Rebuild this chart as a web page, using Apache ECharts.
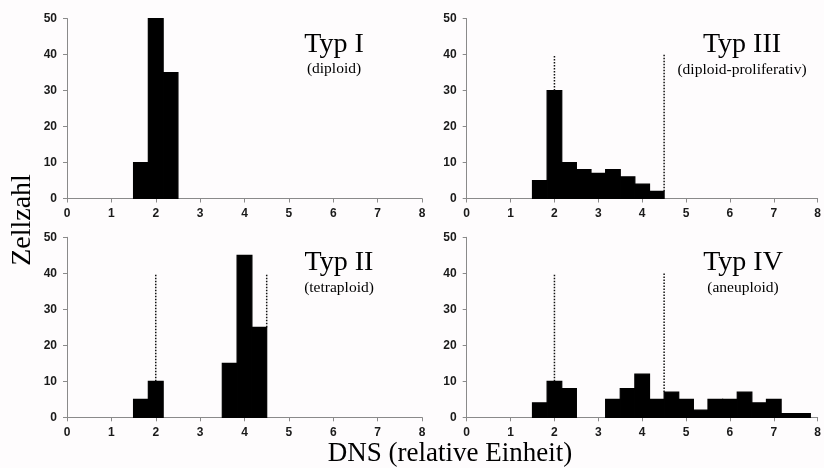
<!DOCTYPE html>
<html>
<head>
<meta charset="utf-8">
<script src="https://cdn.jsdelivr.net/npm/echarts@6/dist/echarts.min.js"></script>
<style>html,body{margin:0;padding:0;background:#fefcfd;}#c{width:824px;height:468px;}</style>
</head>
<body>
<div id="c"></div>
<script>
// Bin edges (relative DNA units)
const binEdges = [1.5, 1.833, 2.167, 2.5, 2.833, 3.167, 3.5, 3.833, 4.167, 4.5, 4.833, 5.167, 5.5, 5.833, 6.167, 6.5, 6.833, 7.167, 7.5, 7.833];
// Cell counts per bin
const countsTypI   = [10, 50, 35, 0, 0, 0, 0, 0, 0, 0, 0, 0, 0, 0, 0, 0, 0, 0, 0];
const countsTypII  = [5, 10, 0, 0, 0, 0, 15, 45, 25, 0, 0, 0, 0, 0, 0, 0, 0, 0, 0];
const countsTypIII = [5, 30, 10, 8, 7, 8, 6, 4, 2, 0, 0, 0, 0, 0, 0, 0, 0, 0, 0];
const countsTypIV  = [4, 10, 8, 0, 0, 5, 8, 12, 5, 7, 5, 2, 5, 5, 7, 4, 5, 1, 1];
// Dotted guide lines: [x, from, to]
const guidesTypI   = [];
const guidesTypII  = [[2, 10, 40], [4.5, 25, 40]];
const guidesTypIII = [[2, 30, 40], [4.5, 2, 40]];
const guidesTypIV  = [[2, 10, 40], [4.5, 7, 40]];
// Titles
const titles = ['Typ I', 'Typ II', 'Typ III', 'Typ IV'];
const subtitles = ['(diploid)', '(tetraploid)', '(diploid-proliferativ)', '(aneuploid)'];
const xTicks = [0, 1, 2, 3, 4, 5, 6, 7, 8];
const yTicks = [0, 10, 20, 30, 40, 50];

const panels = [
  {counts: countsTypI, guides: guidesTypI},
  {counts: countsTypII, guides: guidesTypII},
  {counts: countsTypIII, guides: guidesTypIII},
  {counts: countsTypIV, guides: guidesTypIV}
];
const gridPos = [
  {left: 67, top: 18.5, width: 355, height: 180},
  {left: 67, top: 237.3, width: 355, height: 180},
  {left: 466.7, top: 18.5, width: 355.5, height: 180},
  {left: 466.7, top: 237.3, width: 355.5, height: 180}
];
const titlePos = [
  {x: 334, y: 45, sy: 69},
  {x: 339, y: 263, sy: 288},
  {x: 742, y: 45, sy: 70},
  {x: 743, y: 263, sy: 288}
];

const axisColor = '#8a8a8a';
const labelStyle = {color: '#1a1a1a', fontFamily: 'Liberation Sans, Arial', fontWeight: 'bold', fontSize: 12};

function renderBar(params, api) {
  const x0 = api.value(0), x1 = api.value(1), y = api.value(2);
  const p0 = api.coord([x0, y]);
  const p1 = api.coord([x1, 0]);
  return {type: 'rect', shape: {x: p0[0], y: p0[1], width: p1[0] - p0[0], height: p1[1] - p0[1]},
    style: {fill: '#000', stroke: '#000', lineWidth: 1.2}};
}

const grid = [], xAxis = [], yAxis = [], series = [], graphic = [];
panels.forEach((p, i) => {
  grid.push(Object.assign({containLabel: false}, gridPos[i]));
  xAxis.push({type: 'value', gridIndex: i, min: xTicks[0], max: xTicks[xTicks.length - 1], interval: 1,
    axisLine: {lineStyle: {color: axisColor, width: 1}}, axisTick: {show: true, length: 4, lineStyle: {color: axisColor}},
    splitLine: {show: false}, axisLabel: Object.assign({margin: 9}, labelStyle)});
  yAxis.push({type: 'value', gridIndex: i, min: yTicks[0], max: yTicks[yTicks.length - 1], interval: 10,
    axisLine: {show: true, lineStyle: {color: axisColor, width: 1}}, axisTick: {show: true, length: 4, lineStyle: {color: axisColor}},
    splitLine: {show: false}, axisLabel: Object.assign({margin: 10}, labelStyle)});
  const data = [];
  p.counts.forEach((c, k) => { if (c > 0) data.push([binEdges[k], binEdges[k + 1], c]); });
  series.push({type: 'custom', xAxisIndex: i, yAxisIndex: i, renderItem: renderBar, data: data, silent: true});
  p.guides.forEach(g => {
    series.push({type: 'line', xAxisIndex: i, yAxisIndex: i, data: [[g[0], g[1]], [g[0], g[2]]], symbol: 'none',
      lineStyle: {color: '#111', width: 1.5, type: [1.5, 1.5]}, silent: true, z: 3});
  });
  graphic.push({type: 'text', x: titlePos[i].x, y: titlePos[i].y, style: {text: titles[i], font: '28px "Liberation Serif"', fill: '#000', align: 'center', verticalAlign: 'middle'}});
  graphic.push({type: 'text', x: titlePos[i].x, y: titlePos[i].sy, style: {text: subtitles[i], font: '15.5px "Liberation Serif"', fill: '#000', align: 'center', verticalAlign: 'middle'}});
});
graphic.push({type: 'text', x: 23, y: 220, rotation: Math.PI / 2, style: {text: 'Zellzahl', font: '28px "Liberation Serif"', fill: '#000', align: 'center', verticalAlign: 'middle'}});
graphic.push({type: 'text', x: 450, y: 454, style: {text: 'DNS (relative Einheit)', font: '27px "Liberation Serif"', fill: '#000', align: 'center', verticalAlign: 'middle'}});

const chart = echarts.init(document.getElementById('c'), null, {renderer: 'canvas'});
chart.setOption({backgroundColor: '#fefcfd', animation: false, grid, xAxis, yAxis, series, graphic});
</script>
</body>
</html>
